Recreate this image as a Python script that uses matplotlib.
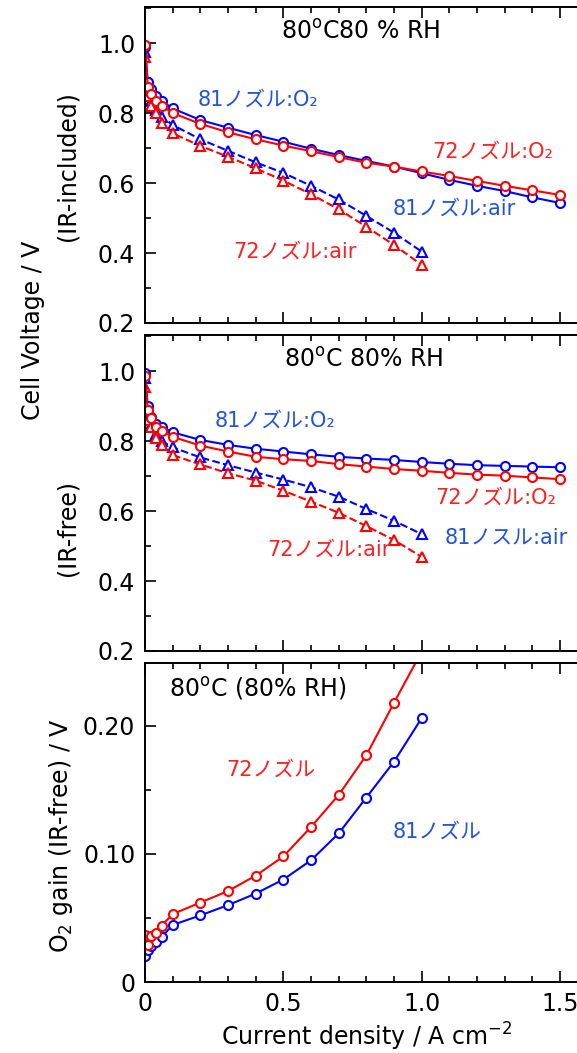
import matplotlib
matplotlib.use("Agg")
import matplotlib.pyplot as plt
from matplotlib.ticker import MultipleLocator, FuncFormatter

plt.rcParams["font.family"] = ["DejaVu Sans", "Noto Sans CJK JP"]
plt.rcParams["mathtext.fontset"] = "dejavusans"

# current density (A cm-2)
j_o2 = [0, 0.01, 0.02, 0.04, 0.06, 0.1, 0.2, 0.3, 0.4, 0.5, 0.6, 0.7,
        0.8, 0.9, 1.0, 1.1, 1.2, 1.3, 1.4, 1.5]
j_air = [0, 0.01, 0.02, 0.04, 0.06, 0.1, 0.2, 0.3, 0.4, 0.5, 0.6, 0.7,
         0.8, 0.9, 1.0]

# IR-included cell voltage
inc_81_o2 = [0.99, 0.89, 0.87, 0.85, 0.835, 0.813, 0.78, 0.758, 0.737, 0.718,
             0.698, 0.68, 0.663, 0.647, 0.628, 0.609, 0.592, 0.577, 0.559, 0.543]
inc_72_o2 = [0.995, 0.875, 0.855, 0.835, 0.82, 0.80, 0.769, 0.745, 0.725, 0.707,
             0.691, 0.674, 0.658, 0.647, 0.633, 0.62, 0.606, 0.592, 0.579, 0.566]
inc_81_air = [0.975, 0.86, 0.835, 0.81, 0.79, 0.766, 0.725, 0.692, 0.659, 0.629,
              0.592, 0.553, 0.506, 0.458, 0.404]
inc_72_air = [0.96, 0.85, 0.82, 0.80, 0.772, 0.742, 0.706, 0.675, 0.642, 0.607,
              0.568, 0.525, 0.475, 0.423, 0.366]

# IR-free cell voltage
free_81_o2 = [0.995, 0.90, 0.87, 0.85, 0.84, 0.825, 0.803, 0.789, 0.778, 0.77,
              0.762, 0.755, 0.75, 0.746, 0.74, 0.735, 0.731, 0.729, 0.727, 0.725]
free_72_o2 = [0.986, 0.89, 0.865, 0.84, 0.83, 0.812, 0.787, 0.77, 0.755, 0.748,
              0.743, 0.734, 0.727, 0.72, 0.715, 0.709, 0.704, 0.701, 0.696, 0.691]
free_81_air = [0.979, 0.865, 0.845, 0.82, 0.80, 0.782, 0.753, 0.731, 0.71, 0.69,
               0.668, 0.641, 0.606, 0.572, 0.534]
free_72_air = [0.955, 0.86, 0.84, 0.808, 0.789, 0.76, 0.733, 0.708, 0.687, 0.658,
               0.627, 0.595, 0.557, 0.517, 0.469]

# O2 gain (IR-free)
gain_81 = [0.020, 0.025, 0.028, 0.031, 0.035, 0.0445, 0.052, 0.060, 0.069, 0.080,
           0.095, 0.116, 0.144, 0.172, 0.206]
gain_72 = [0.037, 0.029, 0.036, 0.038, 0.044, 0.053, 0.062, 0.071, 0.083, 0.098,
           0.121, 0.146, 0.177, 0.218, 0.258]

BLUE = "#0000ff"
RED = "#ff0000"
BLUE_TXT = "#2152dc"
RED_TXT = "#ff1f1f"
FS = 17      # axis / tick text
FS_JP = 15   # series annotations (CJK glyphs run wide)

fig = plt.figure(figsize=(5.77, 10.53), dpi=100)

left = 145 / 577
width = 1.6 * 276.7 / 577
ax_top = fig.add_axes([left, 1 - 323 / 1053, width, 316 / 1053])
ax_mid = fig.add_axes([left, 1 - 651 / 1053, width, 316 / 1053])
ax_bot = fig.add_axes([left, 1 - 982 / 1053, width, 319 / 1053])


def style_axes(ax, ymin, ymax, ymajor, yminor, xlabels):
    ax.set_xlim(0, 1.6)
    ax.set_ylim(ymin, ymax)
    ax.xaxis.set_major_locator(MultipleLocator(0.5))
    ax.xaxis.set_minor_locator(MultipleLocator(0.1))
    ax.yaxis.set_major_locator(MultipleLocator(ymajor))
    ax.yaxis.set_minor_locator(MultipleLocator(yminor))
    ax.tick_params(which="both", direction="in", top=True, right=True,
                   width=1.2, labelsize=FS, pad=7)
    ax.tick_params(which="major", length=8)
    ax.tick_params(which="minor", length=4.5)
    if not xlabels:
        ax.tick_params(axis="x", labelbottom=False)
    for s in ax.spines.values():
        s.set_linewidth(1.4)


def plot_vi(ax, o2_81, o2_72, air_81, air_72):
    kw = dict(mfc="white", ms=6.5, lw=1.5, mew=1.5)
    ax.plot(j_air, air_81, "^--", color=BLUE, **kw)
    ax.plot(j_air, air_72, "^--", color=RED, **kw)
    ax.plot(j_o2, o2_81, "o-", color=BLUE, **kw)
    ax.plot(j_o2, o2_72, "o-", color=RED, **kw)


# IR-included
plot_vi(ax_top, inc_81_o2, inc_72_o2, inc_81_air, inc_72_air)
style_axes(ax_top, 0.2, 1.103, 0.2, 0.1, False)
ax_top.yaxis.set_major_formatter(FuncFormatter(lambda v, p: f"{v:.1f}"))
ax_top.text(0.78, 1.031, r"80$^\mathrm{o}$C80 % RH", fontsize=FS, ha="center", va="center")
ax_top.text(0.19, 0.837, "81ノズル:O₂", color=BLUE_TXT, fontsize=FS_JP, va="center")
ax_top.text(1.037, 0.689, "72ノズル:O₂", color=RED_TXT, fontsize=FS_JP, va="center")
ax_top.text(0.896, 0.526, "81ノズル:air", color=BLUE_TXT, fontsize=FS_JP, va="center")
ax_top.text(0.32, 0.403, "72ノズル:air", color=RED_TXT, fontsize=FS_JP, va="center")

# IR-free
plot_vi(ax_mid, free_81_o2, free_72_o2, free_81_air, free_72_air)
style_axes(ax_mid, 0.2, 1.103, 0.2, 0.1, False)
ax_mid.yaxis.set_major_formatter(FuncFormatter(lambda v, p: f"{v:.1f}"))
ax_mid.text(0.79, 1.033, r"80$^\mathrm{o}$C 80% RH", fontsize=FS, ha="center", va="center")
ax_mid.text(0.253, 0.858, "81ノズル:O₂", color=BLUE_TXT, fontsize=FS_JP, va="center")
ax_mid.text(1.048, 0.638, "72ノズル:O₂", color=RED_TXT, fontsize=FS_JP, va="center")
ax_mid.text(1.084, 0.525, "81ノスル:air", color=BLUE_TXT, fontsize=FS_JP, va="center")
ax_mid.text(0.441, 0.489, "72ノズル:air", color=RED_TXT, fontsize=FS_JP, va="center")

# O2 gain
kw = dict(mfc="white", ms=6.5, lw=1.5, mew=1.5)
ax_bot.plot(j_air, gain_81, "o-", color=BLUE, **kw)
ax_bot.plot(j_air, gain_72, "o-", color=RED, **kw)
style_axes(ax_bot, 0, 0.249, 0.1, 0.05, True)
ax_bot.yaxis.set_major_formatter(FuncFormatter(lambda v, p: "0" if abs(v) < 1e-9 else f"{v:.2f}"))
ax_bot.xaxis.set_major_formatter(FuncFormatter(lambda v, p: "0" if abs(v) < 1e-9 else f"{v:.1f}"))
ax_bot.text(0.087, 0.229, r"80$^\mathrm{o}$C (80% RH)", fontsize=FS, va="center")
ax_bot.text(0.293, 0.166, "72ノズル", color=RED_TXT, fontsize=FS_JP, va="center")
ax_bot.text(0.896, 0.117, "81ノズル", color=BLUE_TXT, fontsize=FS_JP, va="center")

# axis titles
fig.text(33 / 577, 1 - 330 / 1053, "Cell Voltage / V", rotation=90,
         fontsize=FS, ha="center", va="center")
fig.text(68 / 577, 1 - 166 / 1053, "(IR-included)", rotation=90,
         fontsize=FS, ha="center", va="center")
fig.text(68 / 577, 1 - 528 / 1053, "(IR-free)", rotation=90,
         fontsize=FS, ha="center", va="center")
fig.text(61 / 577, 1 - 836 / 1053, r"O$_2$ gain (IR-free) / V", rotation=90,
         fontsize=FS, ha="center", va="center")
fig.text(367 / 577, 1 - 1037 / 1053, r"Current density / A cm$^{-2}$",
         fontsize=FS, ha="center", va="center")

fig.savefig("out.png", dpi=100)
